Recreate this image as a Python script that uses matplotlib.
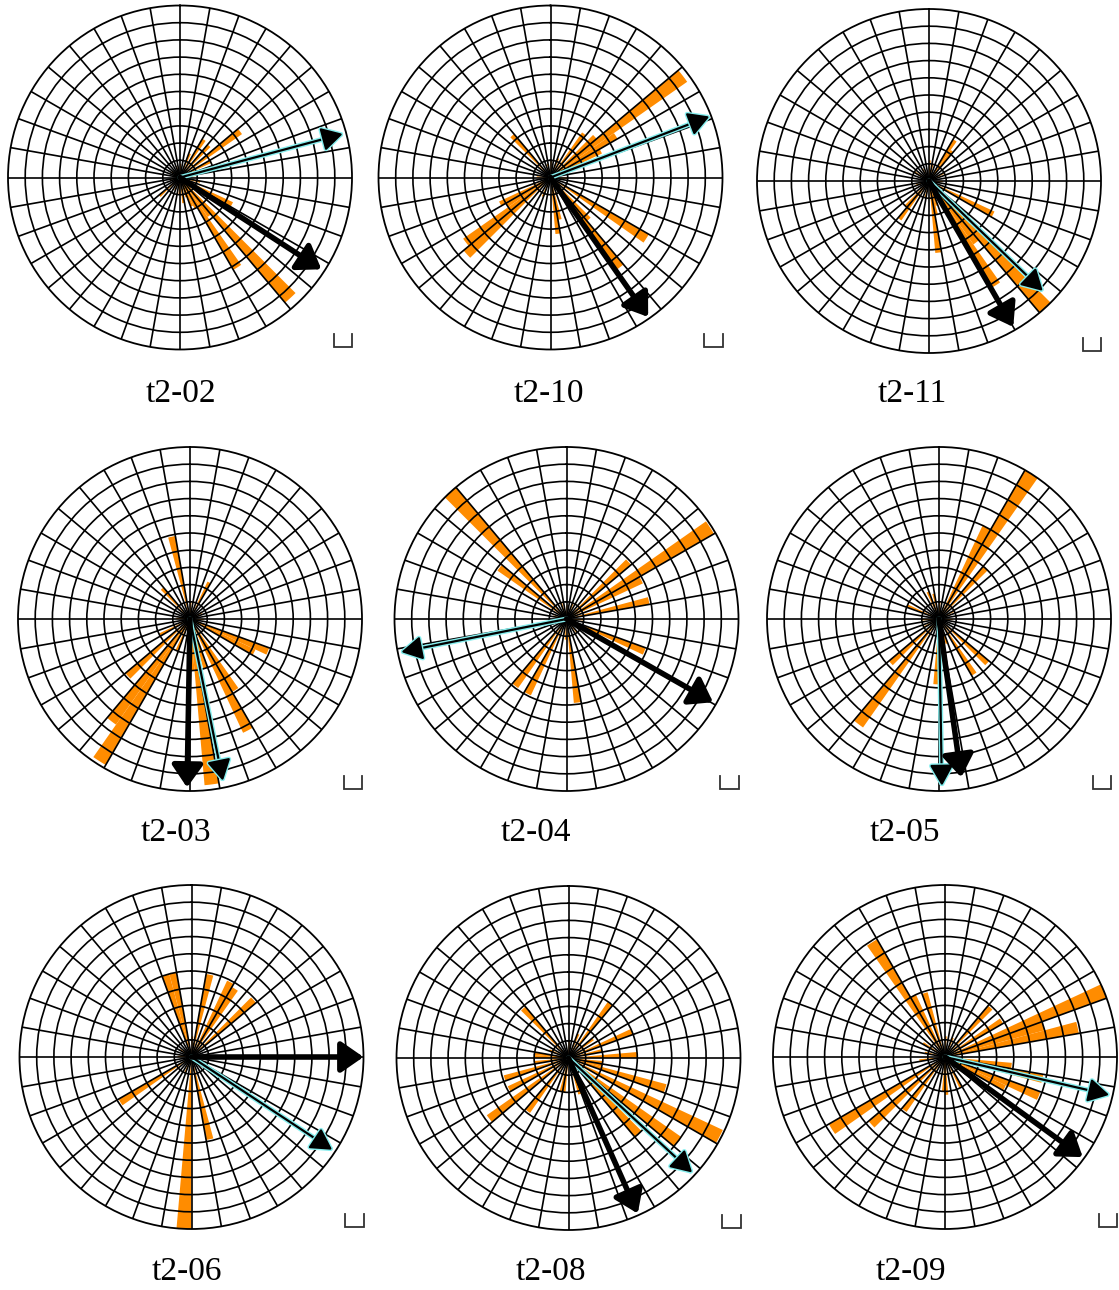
import numpy as np
import matplotlib
matplotlib.use("Agg")
import matplotlib.pyplot as plt
import matplotlib.patheffects as pe

# ---------------- data (bearing of 5-degree bin start, relative length) ----------------
labels = ["t2-02", "t2-10", "t2-11", "t2-03", "t2-04", "t2-05", "t2-06", "t2-08", "t2-09"]

t2_02_bins = [135, 140, 145, 150, 155, 160, 115, 120, 50, 30, 40, 20, 60, 225, 170, 180, 0, 80, 100, 200, 250, 300, 340]
t2_02_vals = [0.95, 0.28, 0.62, 0.20, 0.18, 0.12, 0.34, 0.30, 0.44, 0.26, 0.25, 0.15, 0.20, 0.16, 0.15, 0.10, 0.08, 0.10, 0.12, 0.08, 0.06, 0.06, 0.07]

t2_10_bins = [50, 45, 55, 60, 35, 225, 230, 235, 240, 120, 140, 135, 170, 165, 315, 20, 90, 200, 270, 0, 345]
t2_10_vals = [0.97, 0.35, 0.45, 0.33, 0.32, 0.66, 0.62, 0.30, 0.33, 0.66, 0.66, 0.33, 0.33, 0.25, 0.33, 0.12, 0.10, 0.12, 0.08, 0.10, 0.08]

t2_11_bins = [135, 140, 145, 115, 170, 165, 30, 35, 215, 220, 0, 10, 60, 90, 160, 190, 250, 300, 330]
t2_11_vals = [1.00, 0.45, 0.72, 0.42, 0.42, 0.20, 0.28, 0.22, 0.28, 0.20, 0.12, 0.10, 0.10, 0.08, 0.15, 0.10, 0.08, 0.10, 0.08]

t2_03_bins = [210, 215, 225, 170, 150, 145, 110, 115, 345, 315, 25, 240, 200, 160, 175, 0, 60, 90, 270]
t2_03_vals = [0.98, 0.75, 0.49, 0.97, 0.73, 0.49, 0.49, 0.42, 0.49, 0.24, 0.24, 0.20, 0.20, 0.30, 0.30, 0.10, 0.08, 0.08, 0.08]

t2_04_bins = [315, 305, 55, 60, 45, 75, 110, 215, 205, 170, 0, 20, 90, 140, 180, 250, 280, 340]
t2_04_vals = [1.00, 0.49, 0.99, 0.49, 0.49, 0.49, 0.49, 0.49, 0.49, 0.49, 0.08, 0.10, 0.10, 0.10, 0.12, 0.10, 0.08, 0.10]

t2_05_bins = [30, 25, 40, 215, 225, 130, 145, 180, 170, 290, 335, 345, 0, 60, 90, 240, 265, 160]
t2_05_vals = [1.00, 0.60, 0.40, 0.77, 0.38, 0.38, 0.38, 0.38, 0.25, 0.20, 0.17, 0.15, 0.10, 0.10, 0.08, 0.10, 0.10, 0.15]

t2_06_bins = [180, 340, 345, 10, 25, 30, 45, 235, 165, 0, 90, 120, 200, 270, 300]
t2_06_vals = [1.00, 0.50, 0.50, 0.49, 0.49, 0.47, 0.49, 0.49, 0.49, 0.12, 0.10, 0.10, 0.10, 0.08, 0.08]

t2_08_bins = [115, 125, 105, 135, 250, 230, 215, 240, 315, 35, 65, 85, 270, 275, 260, 185, 190, 95, 100, 75, 50, 20, 160, 150, 290, 0]
t2_08_vals = [0.99, 0.80, 0.59, 0.60, 0.39, 0.58, 0.39, 0.39, 0.39, 0.40, 0.40, 0.40, 0.20, 0.20, 0.20, 0.20, 0.20, 0.20, 0.20, 0.20, 0.18, 0.15, 0.22, 0.20, 0.12, 0.10]

t2_09_bins = [325, 330, 340, 65, 75, 70, 40, 55, 235, 225, 215, 110, 100, 95, 115, 0, 20, 150, 175, 180, 260, 280, 300]
t2_09_vals = [0.79, 0.40, 0.39, 1.00, 0.79, 0.60, 0.39, 0.39, 0.78, 0.58, 0.39, 0.59, 0.58, 0.39, 0.39, 0.12, 0.12, 0.20, 0.22, 0.20, 0.15, 0.12, 0.15]

# mean-direction arrows (bearing in degrees, relative length)
black_dir = [123, 145, 150, 181, 119.6, 172, 90, 156, 126]
black_len = [0.98, 0.99, 0.98, 0.98, 0.98, 0.93, 1.00, 0.99, 0.99]
cyan_dir = [75, 69, 134, 168.5, 258.7, 179, 123.4, 132.8, 103]
cyan_len = [0.98, 0.99, 0.92, 0.96, 0.98, 0.97, 0.98, 0.98, 0.98]

bins_all = [t2_02_bins, t2_10_bins, t2_11_bins, t2_03_bins, t2_04_bins, t2_05_bins, t2_06_bins, t2_08_bins, t2_09_bins]
vals_all = [t2_02_vals, t2_10_vals, t2_11_vals, t2_03_vals, t2_04_vals, t2_05_vals, t2_06_vals, t2_08_vals, t2_09_vals]

# ---------------- layout ----------------
W, H = 1119, 1290
centers = [(180, 177.5), (550.5, 177.5), (929, 181),
           (190, 619), (566.5, 619), (939, 619),
           (191.5, 1057), (568.5, 1058), (945, 1057)]
R = 172
label_pos = [(181, 394), (549, 394), (912, 394),
             (176, 833), (536, 833), (905, 833),
             (187, 1272), (551, 1272), (911, 1272)]

ORANGE = "#ff8c00"
CYAN = "#86eeee"

fig = plt.figure(figsize=(W / 100, H / 100), dpi=100)
fig.patch.set_facecolor("white")

for i in range(9):
    cx, cy = centers[i]
    ax = fig.add_axes([(cx - R) / W, (H - cy - R) / H, 2 * R / W, 2 * R / H], projection="polar")
    ax.set_theta_zero_location("N")
    ax.set_theta_direction(-1)
    ax.set_ylim(0, 1)
    th = np.deg2rad(np.array(bins_all[i], dtype=float))
    ax.bar(th, vals_all[i], width=np.deg2rad(5), align="edge", color=ORANGE,
           edgecolor="none", linewidth=0, zorder=1)
    ax.set_thetagrids(np.arange(0, 360, 10), labels=[])
    ax.set_rgrids(np.arange(0.1, 0.95, 0.1), labels=[])
    ax.set_axisbelow(False)
    ax.grid(True, color="black", linewidth=1.2)
    ax.spines["polar"].set_color("black")
    ax.spines["polar"].set_linewidth(1.3)
    ax.tick_params(length=0, pad=0)

    # black mean arrow
    a1 = ax.annotate("", xy=(np.deg2rad(black_dir[i]), black_len[i]), xytext=(0, 0),
                     arrowprops=dict(arrowstyle="-|>,head_length=0.75,head_width=0.52",
                                     mutation_scale=18, lw=4.0, color="black",
                                     shrinkA=0, shrinkB=0),
                     annotation_clip=False, zorder=5)
    a1.arrow_patch.set_clip_on(False)
    # cyan-outlined arrow
    a2 = ax.annotate("", xy=(np.deg2rad(cyan_dir[i]), cyan_len[i]), xytext=(0, 0),
                     arrowprops=dict(arrowstyle="-|>,head_length=0.8,head_width=0.45",
                                     mutation_scale=16, lw=1.6, color="black",
                                     shrinkA=0, shrinkB=0),
                     annotation_clip=False, zorder=4)
    a2.arrow_patch.set_path_effects([pe.withStroke(linewidth=3.6, foreground=CYAN)])
    a2.arrow_patch.set_clip_on(False)

    # small bracket mark at lower right
    ax.plot([0.947, 0.947, 1.0, 1.0], [0.044, 0.006, 0.006, 0.044], transform=ax.transAxes,
            color="#333333", lw=1.3, clip_on=False, solid_joinstyle="miter")

    lx, ly = label_pos[i]
    fig.text(lx / W, 1 - ly / H, labels[i], ha="center", va="center",
             family=["Liberation Serif", "DejaVu Serif"], fontsize=24)

fig.savefig("out.png", dpi=100, facecolor="white")
